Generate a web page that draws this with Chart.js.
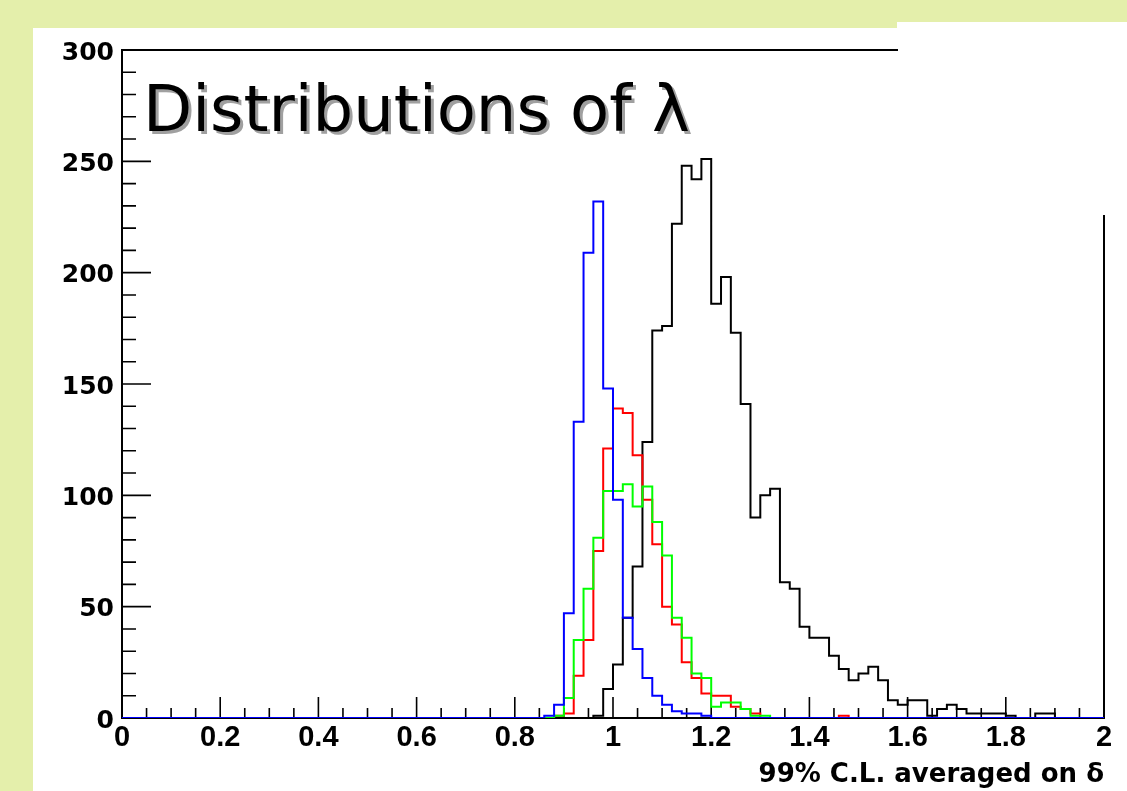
<!DOCTYPE html>
<html>
<head>
<meta charset="utf-8">
<script src="https://cdn.jsdelivr.net/npm/chart.js@4.4.1/dist/chart.umd.min.js"></script>
<style>
  html, body { margin: 0; padding: 0; background: #e4efab; }
  #c { display: block; }
</style>
</head>
<body>
<canvas id="c" width="1127" height="791"></canvas>
<script>
// ---- data (100 bins of width 0.02 from 0 to 2) ----
const binWidth = 0.02;
const blueCounts = [
  0,0,0,0,0,0,0,0,0,0, 0,0,0,0,0,0,0,0,0,0,
  0,0,0,0,0,0,0,0,0,0, 0,0,0,0,0,0,0,0,0,0,
  0,0,0,1,6,47,133,209,232,148, 98,45,31,18,10,6,3,2,2,1,
  0,0,0,0,0,0,0,0,0,0, 0,0,0,0,0,0,0,0,0,0,
  0,0,0,0,0,0,0,0,0,0, 0,0,0,0,0,0,0,0,0,0
];
const redCounts = [
  0,0,0,0,0,0,0,0,0,0, 0,0,0,0,0,0,0,0,0,0,
  0,0,0,0,0,0,0,0,0,0, 0,0,0,0,0,0,0,0,0,0,
  0,0,0,0,1,2,19,35,75,121, 139,137,118,98,78,50,42,25,18,11,
  10,10,5,4,2,0,0,0,0,0, 0,0,0,1,0,0,0,0,0,0,
  0,0,0,0,0,0,0,0,0,0, 0,0,0,0,0,0,0,0,0,0
];
const greenCounts = [
  0,0,0,0,0,0,0,0,0,0, 0,0,0,0,0,0,0,0,0,0,
  0,0,0,0,0,0,0,0,0,0, 0,0,0,0,0,0,0,0,0,0,
  0,0,0,0,1,9,35,58,81,102, 102,105,95,104,88,73,45,36,20,18,
  5,7,7,4,1,1,0,0,0,0, 0,0,0,0,0,0,0,0,0,0,
  0,0,0,0,0,0,0,0,0,0, 0,0,0,0,0,0,0,0,0,0
];
const blackCounts = [
  0,0,0,0,0,0,0,0,0,0, 0,0,0,0,0,0,0,0,0,0,
  0,0,0,0,0,0,0,0,0,0, 0,0,0,0,0,0,0,0,0,0,
  0,0,0,0,0,0,0,0,1,13, 24,45,68,124,174,176,222,248,242,251,
  186,198,173,141,90,100,103,61,58,41, 36,36,28,22,17,20,23,17,8,6,
  8,8,1,4,6,4,2,2,2,2, 1,0,0,2,2,0,0,0,0,0
];
const xTickLabels = ["0","0.2","0.4","0.6","0.8","1","1.2","1.4","1.6","1.8","2"];
const yTickLabels = ["0","50","100","150","200","250","300"];
const titleText = "Distributions of \u03bb";
const xAxisTitle = "99% C.L. averaged on \u03b4";

// histogram outline: left bin edges + closing point at the last edge
function histPoints(counts) {
  const pts = counts.map((v, i) => ({ x: +(i * binWidth).toFixed(4), y: v }));
  pts.push({ x: +(counts.length * binWidth).toFixed(4), y: counts[counts.length - 1] });
  return pts;
}

const BG = '#e4efab';

const bgPlugin = {
  id: 'bg',
  beforeDraw(chart) {
    const ctx = chart.ctx;
    ctx.save();
    ctx.fillStyle = BG;
    ctx.fillRect(0, 0, chart.width, chart.height);
    ctx.fillStyle = '#ffffff';
    ctx.fillRect(33, 28, chart.width - 33, chart.height - 28);
    ctx.fillRect(897, 22, chart.width - 897, 10);
    ctx.restore();
  }
};

const framePlugin = {
  id: 'frame',
  beforeDatasetsDraw(chart) {
    const ctx = chart.ctx;
    const xs = chart.scales.x, ys = chart.scales.y;
    const a = chart.chartArea;
    ctx.save();
    ctx.strokeStyle = '#000';
    ctx.lineWidth = 2;
    ctx.beginPath();
    ctx.rect(a.left, a.top, a.right - a.left, a.bottom - a.top);
    ctx.stroke();
    ctx.lineWidth = 1.6;
    ctx.beginPath();
    // x ticks (major every 0.2, minor every 0.05), drawn inward
    for (let k = 0; k <= 40; k++) {
      const v = k * 0.05;
      const px = xs.getPixelForValue(v);
      const len = (k % 4 === 0) ? 21 : 10;
      ctx.moveTo(px, a.bottom);
      ctx.lineTo(px, a.bottom - len);
    }
    // y ticks (major every 50, minor every 10)
    for (let k = 0; k <= 30; k++) {
      const v = k * 10;
      const py = ys.getPixelForValue(v);
      const len = (k % 5 === 0) ? 29 : 14;
      ctx.moveTo(a.left, py);
      ctx.lineTo(a.left + len, py);
    }
    ctx.stroke();
    ctx.restore();
  },
  afterDatasetsDraw(chart) {
    const ctx = chart.ctx;
    ctx.save();
    // blank box that hides the top-right corner of the frame
    ctx.fillStyle = '#ffffff';
    ctx.fillRect(898, 22, chart.width - 898, 193);
    // big title with shadow
    ctx.font = '64px "DejaVu Sans"';
    ctx.textBaseline = 'alphabetic';
    ctx.textAlign = 'left';
    ctx.fillStyle = '#a0a0a0';
    ctx.fillText(titleText, 146, 134);
    ctx.fillStyle = '#000000';
    ctx.fillText(titleText, 143, 131);
    ctx.restore();
  },
  afterDraw(chart) {
    const ctx = chart.ctx;
    ctx.save();
    ctx.font = 'bold 26px "DejaVu Sans"';
    ctx.fillStyle = '#000000';
    ctx.textAlign = 'right';
    ctx.textBaseline = 'alphabetic';
    ctx.fillText(xAxisTitle, 1104, 782);
    ctx.restore();
  }
};

const datasets = [
  { label: 'blue',  data: histPoints(blueCounts),  borderColor: '#0000ff' },
  { label: 'green', data: histPoints(greenCounts), borderColor: '#00ff00' },
  { label: 'red',   data: histPoints(redCounts),   borderColor: '#ff0000' },
  { label: 'black', data: histPoints(blackCounts), borderColor: '#000000' }
].map(d => Object.assign(d, {
  stepped: true, borderWidth: 2, pointRadius: 0, fill: false, tension: 0
}));

new Chart(document.getElementById('c'), {
  type: 'line',
  data: { datasets },
  plugins: [bgPlugin, framePlugin],
  options: {
    responsive: false,
    animation: false,
    events: [],
    layout: { padding: { top: 50, right: 23, left: 0, bottom: 0 } },
    plugins: { legend: { display: false }, tooltip: { enabled: false } },
    scales: {
      x: {
        type: 'linear', min: 0, max: 2,
        grid: { display: false, drawTicks: false }, border: { display: false },
        afterFit(s) { s.height = 73; },
        afterBuildTicks(s) { s.ticks = xTickLabels.map(t => ({ value: parseFloat(t) })); },
        ticks: {
          padding: 3, color: '#000', font: { family: 'Liberation Sans', size: 29, weight: 'bold' },
          maxRotation: 0, autoSkip: false,
          callback: (v) => xTickLabels.find(t => Math.abs(parseFloat(t) - v) < 1e-9) ?? ''
        }
      },
      y: {
        type: 'linear', min: 0, max: 300,
        grid: { display: false, drawTicks: false }, border: { display: false },
        afterFit(s) { s.width = 122; },
        afterBuildTicks(s) { s.ticks = yTickLabels.map(t => ({ value: parseFloat(t) })); },
        ticks: {
          padding: 8, labelOffset: 3, color: '#000', font: { family: 'DejaVu Sans', size: 25, weight: 'bold' },
          callback: (v) => yTickLabels.find(t => parseFloat(t) === v) ?? ''
        }
      }
    }
  }
});
</script>
</body>
</html>
